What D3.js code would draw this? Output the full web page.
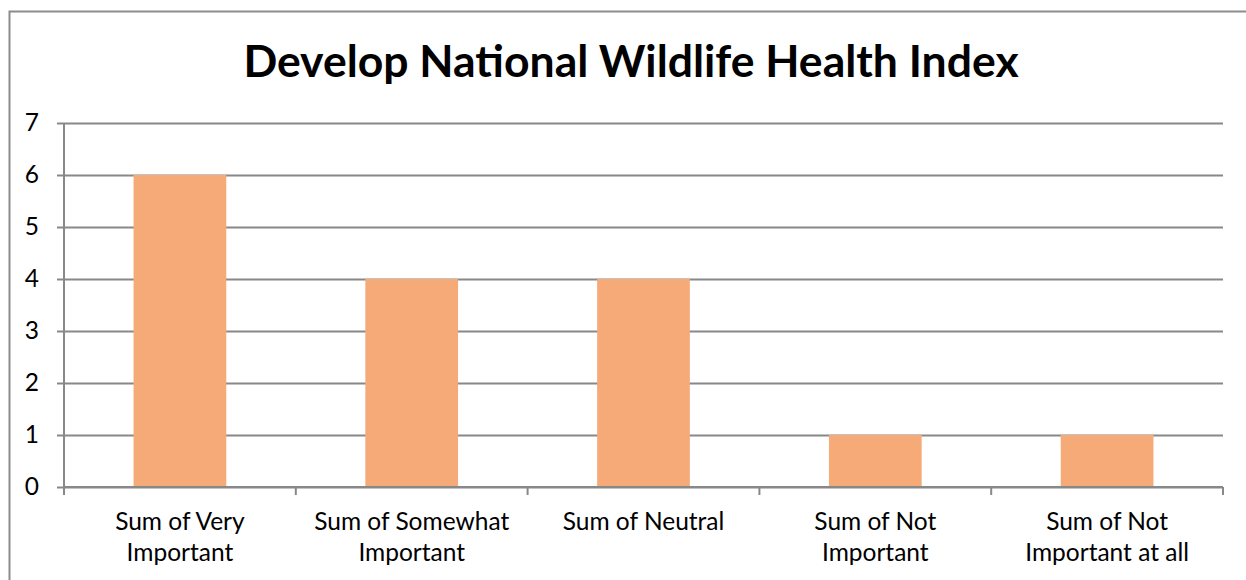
<!DOCTYPE html>
<html>
<head>
<meta charset="utf-8">
<script src="https://cdn.jsdelivr.net/npm/d3@7"></script>
<style>
  html, body { margin: 0; padding: 0; background: #fff; }
  svg { display: block; }
  text { font-family: Lato, "Open Sans", sans-serif; fill: #000; }
</style>
</head>
<body>
<svg id="chart" width="1246" height="580"></svg>
<script>
// Survey tallies for the proposed index
const chartTitle = "Develop National Wildlife Health Index";
const categories = [
  ["Sum of Very", "Important"],
  ["Sum of Somewhat", "Important"],
  ["Sum of Neutral"],
  ["Sum of Not", "Important"],
  ["Sum of Not", "Important at all"]
];
const values = [6, 4, 4, 1, 1];
const yTicks = [0, 1, 2, 3, 4, 5, 6, 7];

const svg = d3.select("#chart");
const W = 1246, H = 580;
const plot = { left: 64, right: 1223, top: 123, bottom: 487 };
const gridColor = "#888888";
const barColor = "#F6AA78";

// Outer chart frame
svg.append("rect")
  .attr("x", 9.5).attr("y", 11.5)
  .attr("width", W + 20).attr("height", H + 20)
  .attr("fill", "#fff")
  .attr("stroke", "#8c8c8c").attr("stroke-width", 2);

const x = d3.scaleBand()
  .domain(d3.range(categories.length))
  .range([plot.left, plot.right])
  .paddingInner(0.6).paddingOuter(0.3);

const xBand = d3.scaleBand()
  .domain(d3.range(categories.length))
  .range([plot.left, plot.right]);

const y = d3.scaleLinear().domain([0, 7]).range([plot.bottom, plot.top]);

// Horizontal gridlines with left ticks
const yAxis = svg.append("g")
  .attr("transform", `translate(${plot.left},0)`)
  .call(d3.axisLeft(y).tickValues(yTicks).tickSize(7).tickPadding(18)
    .tickFormat(d3.format("d")));
yAxis.select(".domain").remove();
yAxis.selectAll(".tick line").attr("stroke", gridColor).attr("stroke-width", 2);
yAxis.selectAll(".tick text").style("font-size", "24.5px").attr("font-family", null);
yAxis.selectAll(".tick").append("line")
  .attr("x1", 0).attr("x2", plot.right - plot.left)
  .attr("stroke", gridColor).attr("stroke-width", 2);

// Bars
svg.append("g").selectAll("rect")
  .data(values)
  .join("rect")
  .attr("x", (d, i) => x(i))
  .attr("width", x.bandwidth())
  .attr("y", d => y(d))
  .attr("height", d => y(0) - y(d))
  .attr("fill", barColor);

// Vertical value axis line
svg.append("line")
  .attr("x1", plot.left).attr("x2", plot.left)
  .attr("y1", plot.top).attr("y2", plot.bottom + 8)
  .attr("stroke", gridColor).attr("stroke-width", 2);

// Category axis with ticks at band boundaries
const bounds = d3.range(categories.length + 1).map(i =>
  i < categories.length ? xBand(i) : xBand(i - 1) + xBand.bandwidth());
svg.append("line")
  .attr("x1", plot.left).attr("x2", plot.right)
  .attr("y1", plot.bottom).attr("y2", plot.bottom)
  .attr("stroke", gridColor).attr("stroke-width", 2);
svg.append("g").selectAll("line")
  .data(bounds)
  .join("line")
  .attr("x1", d => d).attr("x2", d => d)
  .attr("y1", plot.bottom).attr("y2", plot.bottom + 8)
  .attr("stroke", gridColor).attr("stroke-width", 2);

// Category labels
const labels = svg.append("g").selectAll("text")
  .data(categories)
  .join("text")
  .attr("text-anchor", "middle")
  .style("font-size", "24.5px")
  .attr("transform", (d, i) => `translate(${xBand(i) + xBand.bandwidth() / 2},0)`);
labels.selectAll("tspan")
  .data(d => d)
  .join("tspan")
  .attr("x", 0)
  .attr("y", (d, j) => 530 + j * 31)
  .text(d => d);

// Title
svg.append("text")
  .attr("x", 631).attr("y", 77)
  .attr("text-anchor", "middle")
  .style("font-size", "44.5px").style("font-weight", "bold")
  .text(chartTitle);
</script>
</body>
</html>
